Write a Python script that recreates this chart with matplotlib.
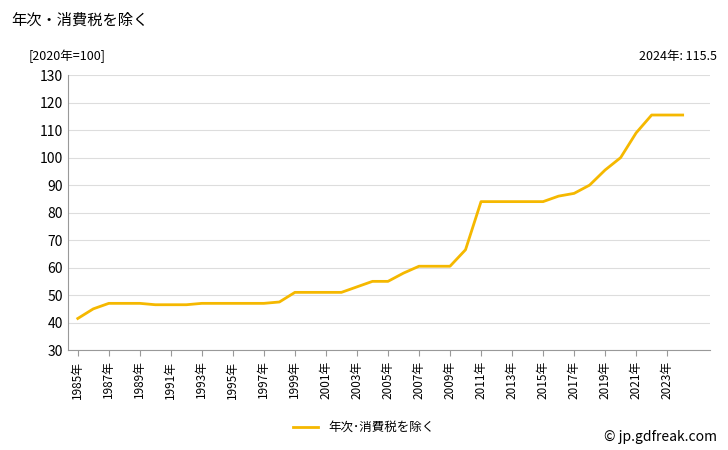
import matplotlib
matplotlib.use("Agg")
import matplotlib.pyplot as plt

plt.rcParams['font.family'] = ['Noto Sans CJK JP', 'DejaVu Sans']

# ── data ──────────────────────────────────────
years = list(range(1985, 2025))
values = [41.5, 45, 47, 47, 47, 46.5, 46.5, 46.5, 47, 47,
          47, 47, 47, 47.5, 51, 51, 51, 51, 53, 55,
          55, 58, 60.5, 60.5, 60.5, 66.5, 84, 84, 84, 84,
          84, 86, 87, 90, 95.5, 100, 109, 115.5, 115.5, 115.5]
tick_years = years[::2]
tick_labels = [f"{y}年" for y in tick_years]

fig = plt.figure(figsize=(7.28, 4.5), dpi=100)
ax = fig.add_axes([0.093, 0.222, 0.882, 0.611])
ax.plot(years, values, color="#f5b800", linewidth=2, label="年次･消費税を除く")

ax.set_ylim(30, 130)
ax.set_yticks(range(30, 131, 10))
ax.set_xlim(1984.35, 2025.75)
ax.set_xticks(tick_years)
ax.set_xticklabels(tick_labels, rotation=90, fontsize=8.5)
ax.tick_params(axis="y", labelsize=10, length=0)
ax.tick_params(axis="x", length=4, color="#999999")
ax.grid(axis="y", color="#dddddd", linewidth=0.8)
for s in ["top", "right"]:
    ax.spines[s].set_visible(False)
for s in ["left", "bottom"]:
    ax.spines[s].set_color("#999999")

fig.text(0.015, 0.955, "年次・消費税を除く", fontsize=11, va="center")
fig.text(0.04, 0.875, "[2020年=100]", fontsize=9, va="center")
fig.text(0.985, 0.875, "2024年: 115.5", fontsize=9, va="center", ha="right")
fig.text(0.985, 0.03, "© jp.gdfreak.com", fontsize=10, va="center", ha="right")
fig.legend(loc="center", bbox_to_anchor=(0.5, 0.05), frameon=False, fontsize=9,
           handlelength=2)

fig.savefig("out.png", dpi=100)
